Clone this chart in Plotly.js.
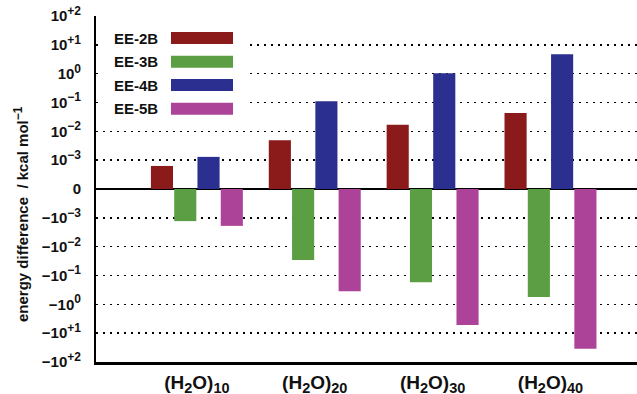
<!DOCTYPE html>
<html>
<head>
<meta charset="utf-8">
<script src="https://cdn.plot.ly/plotly-3.0.1.min.js"></script>
<style>html,body{margin:0;padding:0;background:#fff;}#chart{width:637px;height:394px;}</style>
</head>
<body>
<div id="chart"></div>
<script>
// ---- data (kcal/mol) ----
const categories = ['(H<sub>2</sub>O)<sub>10</sub>', '(H<sub>2</sub>O)<sub>20</sub>', '(H<sub>2</sub>O)<sub>30</sub>', '(H<sub>2</sub>O)<sub>40</sub>'];
const seriesNames = ['EE-2B', 'EE-3B', 'EE-4B', 'EE-5B'];
const ee2b = [6.3e-4, 4.9e-3, 0.017, 0.043];
const ee3b = [-1.3e-3, -0.029, -0.17, -0.56];
const ee4b = [1.3e-3, 0.11, 1.03, 4.7];
const ee5b = [-1.9e-3, -0.35, -5.2, -35];
const tickValues = [-6, -5, -4, -3, -2, -1, 0, 1, 2, 3, 4, 5, 6];
const tickLabels = ['−10<sup>+2</sup>', '−10<sup>+1</sup>', '−10<sup>0</sup>', '−10<sup>−1</sup>', '−10<sup>−2</sup>', '−10<sup>−3</sup>', '0',
  '10<sup>−3</sup>', '10<sup>−2</sup>', '10<sup>−1</sup>', '10<sup>0</sup>', '10<sup>+1</sup>', '10<sup>+2</sup>'];
const colors = ['#8B1A1A', '#5B9E44', '#2B2F90', '#AD4398'];

// symmetric log transform: 0 -> 0, ±1e-3 -> ±1, ±1e+2 -> ±6
function symlog(v) {
  if (v === 0) return 0;
  return Math.sign(v) * Math.max(0, Math.log10(Math.abs(v)) + 4);
}

const allSeries = [ee2b, ee3b, ee4b, ee5b];
const traces = allSeries.map((s, i) => ({
  type: 'bar',
  name: seriesNames[i],
  x: categories,
  y: s.map(symlog),
  customdata: s,
  hovertemplate: seriesNames[i] + ': %{customdata}<extra></extra>',
  marker: {color: colors[i], line: {width: 0}}
}));

// slightly larger sub/superscripts than Plotly's default 70%
const xTickText = categories.map(c => c.replace(/<sub>(.*?)<\/sub>/g, '<sub><span style="font-size:14.5px">$1</span></sub>'));
const yTickText = tickLabels.map(c => c.replace(/<sup>(.*?)<\/sup>/g, '<sup><span style="font-size:12px">$1</span></sup>'));

// layout geometry helpers (pixels -> paper)
const W = 637, H = 394, L = 96, R = 0, T = 16, B = 32;
const pw = W - L - R, ph = H - T - B;
const px = x => (x - L) / pw;
const py = y => (H - B - y) / ph;

const FONT = 'Liberation Sans, Arial, Helvetica, sans-serif';
const shapes = [{
  type: 'rect', xref: 'paper', yref: 'paper', layer: 'above',
  x0: px(99), x1: px(250), y0: py(122), y1: py(24),
  fillcolor: '#ffffff', line: {width: 0}
}];
const annotations = [];
const legendCenters = [38, 61.7, 85, 108.7];
seriesNames.forEach((n, i) => {
  const cy = legendCenters[i];
  shapes.push({
    type: 'rect', xref: 'paper', yref: 'paper', layer: 'above',
    x0: px(171), x1: px(233), y0: py(cy + 6), y1: py(cy - 6),
    fillcolor: colors[i], line: {width: 0}
  });
  annotations.push({
    xref: 'paper', yref: 'paper', x: px(160), y: py(cy),
    xanchor: 'right', yanchor: 'middle', showarrow: false,
    text: n, font: {family: FONT, size: 15, color: '#111', weight: 'bold'}
  });
});
// y-axis title
annotations.push({
  xref: 'paper', yref: 'paper', x: px(21), y: py(214),
  xanchor: 'center', yanchor: 'middle', showarrow: false, textangle: -90,
  text: 'energy difference  / kcal mol<sup><span style="font-size:12px">−1</span></sup>',
  font: {family: FONT, size: 15, color: '#111', weight: 'bold'}
});

const layout = {
  width: W, height: H,
  margin: {l: L, r: R, t: T, b: B, pad: 0},
  paper_bgcolor: '#fff', plot_bgcolor: '#fff',
  showlegend: false,
  barmode: 'group', bargap: 0.21, bargroupgap: 0.05,
  font: {family: FONT, size: 15, color: '#111'},
  xaxis: {
    type: 'category',
    range: [-0.856, 3.734],
    tickmode: 'array', tickvals: categories, ticktext: xTickText,
    showgrid: false, zeroline: false,
    showline: true, linecolor: '#000', linewidth: 2.5, mirror: false,
    ticks: '', ticklabelstandoff: 2,
    tickfont: {family: FONT, size: 19, weight: 'bold', color: '#111'},
    fixedrange: true
  },
  yaxis: {
    range: [-6, 6],
    tickmode: 'array', tickvals: tickValues, ticktext: yTickText,
    showgrid: true, gridcolor: '#000', gridwidth: 1.5, griddash: '2px,5px',
    zeroline: true, zerolinecolor: '#000', zerolinewidth: 2.5,
    showline: true, linecolor: '#000', linewidth: 2, mirror: false,
    ticks: '', ticklabelstandoff: 10,
    tickfont: {family: FONT, size: 15, weight: 'bold', color: '#111'},
    fixedrange: true
  },
  shapes: shapes,
  annotations: annotations
};

Plotly.newPlot('chart', traces, layout, {displayModeBar: false, staticPlot: true});
</script>
</body>
</html>
